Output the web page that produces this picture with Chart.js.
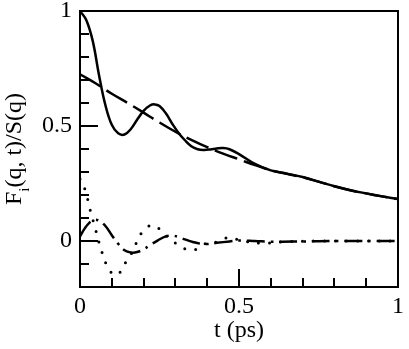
<!DOCTYPE html>
<html>
<head>
<meta charset="utf-8">
<script src="https://cdn.jsdelivr.net/npm/chart.js@4/dist/chart.umd.min.js"></script>
<style>
    html, body { margin: 0; padding: 0; background: #fff; }
    #wrap { width: 409px; height: 349px; }
</style>
</head>
<body>
<div id="wrap"><canvas id="fqtChart" width="409" height="349"></canvas></div>
<script>
// values
var solidT = [0, 0.02, 0.04, 0.06, 0.08, 0.10, 0.12, 0.14, 0.16, 0.18, 0.20, 0.22, 0.235, 0.25, 0.27, 0.29, 0.31, 0.33, 0.35, 0.37, 0.39, 0.41, 0.43, 0.45, 0.47, 0.50, 0.55, 0.60, 0.65, 0.70, 0.75, 0.80, 0.85, 0.90, 0.95, 1.00];
var solidY = [1.0, 0.96, 0.87, 0.72, 0.59, 0.505, 0.468, 0.463, 0.487, 0.528, 0.566, 0.589, 0.594, 0.587, 0.555, 0.51, 0.47, 0.438, 0.412, 0.399, 0.396, 0.398, 0.402, 0.404, 0.399, 0.378, 0.335, 0.307, 0.293, 0.278, 0.258, 0.238, 0.221, 0.207, 0.194, 0.182];

var dashedT = [0, 0.05, 0.10, 0.15, 0.20, 0.25, 0.30, 0.35, 0.40, 0.45, 0.50, 0.55, 0.60, 0.65, 0.70, 0.75, 0.80, 0.85, 0.90, 0.95, 1.00];
var dashedY = [0.725, 0.685, 0.64, 0.60, 0.558, 0.515, 0.475, 0.44, 0.408, 0.38, 0.355, 0.33, 0.308, 0.292, 0.277, 0.258, 0.238, 0.221, 0.207, 0.194, 0.182];

var dottedT = [0, 0.016, 0.032, 0.05, 0.065, 0.082, 0.10, 0.115, 0.13, 0.146, 0.165, 0.18, 0.196, 0.224, 0.255, 0.276, 0.307, 0.336, 0.369, 0.39, 0.431, 0.468, 0.504, 0.566, 0.65, 0.75, 0.85, 1.00];
var dottedY = [0.27, 0.223, 0.135, 0.045, -0.03, -0.099, -0.14, -0.148, -0.128, -0.087, -0.047, 0.0, 0.039, 0.068, 0.047, 0.017, -0.015, -0.036, -0.035, -0.013, -0.004, 0.015, 0.003, -0.009, -0.003, 0.0, 0.0, 0.0];

var dashDotT = [0, 0.015, 0.03, 0.045, 0.06, 0.08, 0.10, 0.12, 0.14, 0.16, 0.18, 0.20, 0.22, 0.245, 0.27, 0.29, 0.31, 0.33, 0.355, 0.38, 0.40, 0.43, 0.47, 0.50, 0.55, 0.60, 0.70, 0.80, 1.00];
var dashDotY = [0.02, 0.055, 0.08, 0.092, 0.088, 0.065, 0.025, -0.012, -0.04, -0.05, -0.048, -0.036, -0.018, 0.003, 0.02, 0.024, 0.017, 0.007, -0.004, -0.012, -0.013, -0.008, -0.002, 0.002, 0.0, -0.003, -0.002, 0.0, 0.0];

var xMajorTicks = [0, 0.5, 1];
var xMinorTicks = [0.1, 0.2, 0.3, 0.4, 0.6, 0.7, 0.8, 0.9];
var yMajorTicks = [0, 0.5, 1];
var yMinorTicks = [-0.1, 0.1, 0.2, 0.3, 0.4, 0.6, 0.7, 0.8, 0.9];

var xTitle = 't (ps)';
var yTitleMain = 'F';
var yTitleSub = 'i';
var yTitleRest = '(q, t)/S(q)';

var serif = '"Liberation Serif", "Times New Roman", serif';

function toPoints(xs, ys) {
    return xs.map(function(x, i) { return {x: x, y: ys[i]}; });
}

// inward ticks + top/right frame + y title with subscript
var framePlugin = {
    id: 'framePlugin',
    afterDraw: function(chart) {
        var ctx = chart.ctx;
        var area = chart.chartArea;
        var xs = chart.scales.x;
        var ys = chart.scales.y;
        ctx.save();
        ctx.strokeStyle = '#000';
        ctx.lineWidth = 2;
        ctx.beginPath();
        ctx.moveTo(area.left, area.top);
        ctx.lineTo(area.right, area.top);
        ctx.lineTo(area.right, area.bottom);
        ctx.stroke();

        ctx.beginPath();
        xMajorTicks.forEach(function(v) {
            var px = Math.round(xs.getPixelForValue(v));
            ctx.moveTo(px, area.bottom);
            ctx.lineTo(px, area.bottom - 18);
        });
        xMinorTicks.forEach(function(v) {
            var px = Math.round(xs.getPixelForValue(v));
            ctx.moveTo(px, area.bottom);
            ctx.lineTo(px, area.bottom - 9);
        });
        yMajorTicks.forEach(function(v) {
            var py = Math.round(ys.getPixelForValue(v));
            ctx.moveTo(area.left, py);
            ctx.lineTo(area.left + 18, py);
        });
        yMinorTicks.forEach(function(v) {
            var py = Math.round(ys.getPixelForValue(v));
            ctx.moveTo(area.left, py);
            ctx.lineTo(area.left + 9, py);
        });
        ctx.stroke();

        // y axis title
        var big = '24px ' + serif;
        var small = '15px ' + serif;
        ctx.fillStyle = '#000';
        ctx.font = big;
        var w1 = ctx.measureText(yTitleMain).width;
        var w3 = ctx.measureText(yTitleRest).width;
        ctx.font = small;
        var w2 = ctx.measureText(yTitleSub).width;
        var total = w1 + w2 + w3;
        ctx.translate(21, (area.top + area.bottom) / 2);
        ctx.rotate(-Math.PI / 2);
        ctx.textBaseline = 'alphabetic';
        ctx.textAlign = 'left';
        var sx = -total / 2;
        ctx.font = big;
        ctx.fillText(yTitleMain, sx, 0);
        ctx.font = small;
        ctx.fillText(yTitleSub, sx + w1, 8);
        ctx.font = big;
        ctx.fillText(yTitleRest, sx + w1 + w2, 0);
        ctx.restore();
    }
};

var ctx = document.getElementById('fqtChart').getContext('2d');
var myChart = new Chart(ctx, {
    type: 'scatter',
    data: {
        datasets: [{
            label: 'solid',
            data: toPoints(solidT, solidY),
            borderColor: '#000',
            borderWidth: 2.5,
        }, {
            label: 'dashed',
            data: toPoints(dashedT, dashedY),
            borderColor: '#000',
            borderWidth: 2.5,
            borderDash: [24, 7],
        }, {
            label: 'dotted',
            data: toPoints(dottedT, dottedY),
            borderColor: '#000',
            borderWidth: 3,
            borderCapStyle: 'round',
            borderDash: [0, 11],
        }, {
            label: 'dash-dot',
            data: toPoints(dashDotT, dashDotY),
            borderColor: '#000',
            borderWidth: 2.5,
            borderDash: [18, 6, 2.5, 6],
        }],
    },
    options: {
        responsive: false,
        animation: false,
        showLine: true,
        elements: {
            point: { radius: 0, hoverRadius: 0 },
            line: { tension: 0.4, fill: false },
        },
        layout: {
            padding: { top: 11, right: 8, left: 0, bottom: 0 },
        },
        plugins: {
            legend: { display: false },
            tooltip: { enabled: false },
        },
        scales: {
            x: {
                type: 'linear',
                min: 0,
                max: 1,
                grid: { display: false, drawTicks: false },
                border: { display: true, color: '#000', width: 2 },
                afterBuildTicks: function(scale) {
                    scale.ticks = xMajorTicks.map(function(v) { return {value: v}; });
                },
                afterFit: function(scale) { scale.height = 62; },
                ticks: {
                    color: '#000',
                    padding: 5,
                    maxRotation: 0,
                    font: { family: serif, size: 24 },
                    callback: function(v) { return String(v); },
                },
                title: {
                    display: true,
                    text: xTitle,
                    color: '#000',
                    font: { family: serif, size: 24, lineHeight: 1.2 },
                    padding: { top: 0, bottom: 4 },
                },
            },
            y: {
                type: 'linear',
                min: -0.2,
                max: 1,
                grid: { display: false, drawTicks: false },
                border: { display: true, color: '#000', width: 2 },
                afterBuildTicks: function(scale) {
                    scale.ticks = yMajorTicks.map(function(v) { return {value: v}; });
                },
                afterFit: function(scale) {
                    scale.width = 80;
                    scale.paddingTop = 0;
                },
                ticks: {
                    color: '#000',
                    padding: 8,
                    font: { family: serif, size: 24, lineHeight: 0.8 },
                    callback: function(v) { return String(v); },
                },
            },
        },
    },
    plugins: [framePlugin],
});
</script>
</body>
</html>
